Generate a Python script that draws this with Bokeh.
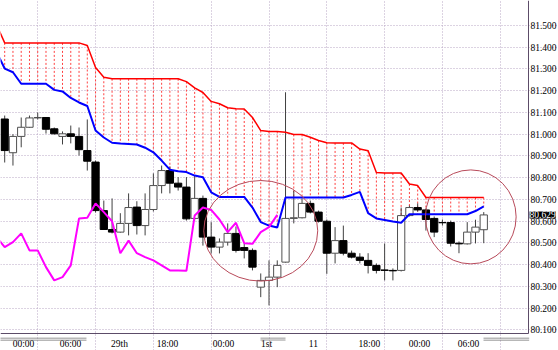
from bokeh.plotting import figure
from bokeh.models import Range1d, FixedTicker, PrintfTickFormatter, ColumnDataSource, Label, BoxAnnotation
from bokeh.embed import file_html
from bokeh.resources import INLINE

# ---------------- data ----------------
opens = [81.070, 80.915, 80.990, 81.032, 81.075, 81.077, 81.025, 80.990, 81.002, 80.990,
         80.925, 80.872, 80.649, 80.562, 80.550, 80.590, 80.665, 80.580, 80.654, 80.764,
         80.833, 80.775, 80.757, 80.613, 80.705, 80.527, 80.481, 80.504, 80.544, 80.479,
         80.466, 80.297, 80.328, 80.343, 80.412, 80.613, 80.616, 80.682, 80.642, 80.600,
         80.453, 80.511, 80.453, 80.435, 80.420, 80.397, 80.376, 80.374, 80.374, 80.626,
         80.663, 80.652, 80.613, 80.594, 80.594, 80.499, 80.496, 80.550, 80.561]
highs = [81.086, 81.000, 81.077, 81.086, 81.100, 81.077, 81.031, 81.013, 81.040, 81.031,
         81.068, 80.879, 80.695, 80.705, 80.637, 80.728, 80.692, 80.728, 80.820, 80.856,
         80.852, 80.803, 80.803, 80.810, 80.718, 80.596, 80.521, 80.590, 80.576, 80.498,
         80.475, 80.360, 80.420, 80.420, 81.193, 80.741, 80.705, 80.695, 80.649, 80.608,
         80.573, 80.580, 80.465, 80.453, 80.453, 80.406, 80.498, 80.383, 80.663, 80.672,
         80.682, 80.659, 80.622, 80.608, 80.603, 80.507, 80.596, 80.607, 80.642]
lows = [80.870, 80.856, 80.940, 81.030, 81.068, 81.003, 80.999, 80.953, 80.958, 80.902,
        80.833, 80.640, 80.560, 80.544, 80.548, 80.535, 80.539, 80.535, 80.645, 80.728,
        80.728, 80.741, 80.603, 80.603, 80.488, 80.452, 80.452, 80.488, 80.456, 80.429,
        80.374, 80.251, 80.213, 80.297, 80.410, 80.590, 80.613, 80.636, 80.594, 80.358,
        80.406, 80.443, 80.429, 80.406, 80.360, 80.360, 80.328, 80.328, 80.369, 80.622,
        80.644, 80.557, 80.527, 80.580, 80.484, 80.453, 80.493, 80.498, 80.499]
closes = [80.925, 80.990, 81.032, 81.075, 81.077, 81.023, 81.002, 81.002, 80.990, 80.929,
          80.876, 80.649, 80.562, 80.550, 80.590, 80.663, 80.580, 80.654, 80.764, 80.833,
          80.775, 80.757, 80.611, 80.705, 80.527, 80.481, 80.504, 80.544, 80.466, 80.466,
          80.389, 80.328, 80.343, 80.397, 80.613, 80.616, 80.682, 80.642, 80.600, 80.453,
          80.511, 80.453, 80.435, 80.420, 80.397, 80.374, 80.374, 80.372, 80.626, 80.663,
          80.652, 80.608, 80.550, 80.593, 80.499, 80.496, 80.550, 80.573, 80.629]

# cloud spans, bar -1 .. 58
span_red = [81.505, 81.420, 81.420, 81.420, 81.420, 81.420, 81.420, 81.420, 81.420, 81.420,
            81.420, 81.408, 81.307, 81.262, 81.255, 81.255, 81.255, 81.255, 81.255, 81.255,
            81.255, 81.255, 81.255, 81.242, 81.213, 81.192, 81.151, 81.140, 81.122, 81.117,
            81.116, 81.077, 81.017, 81.013, 81.013, 81.009, 80.999, 80.999, 80.986, 80.971,
            80.961, 80.960, 80.960, 80.960, 80.932, 80.924, 80.824, 80.822, 80.822, 80.822,
            80.771, 80.764, 80.709, 80.709, 80.709, 80.709, 80.709, 80.709, 80.709, 80.709]
span_blue = [81.380, 81.302, 81.285, 81.232, 81.232, 81.232, 81.232, 81.204, 81.197, 81.167,
             81.146, 81.130, 81.017, 80.985, 80.961, 80.957, 80.955, 80.953, 80.938, 80.917,
             80.879, 80.837, 80.830, 80.826, 80.810, 80.802, 80.733, 80.712, 80.712, 80.712,
             80.712, 80.663, 80.596, 80.580, 80.571, 80.709, 80.709, 80.709, 80.709, 80.709,
             80.709, 80.709, 80.709, 80.721, 80.735, 80.637, 80.613, 80.606, 80.599, 80.593,
             80.632, 80.632, 80.632, 80.632, 80.632, 80.632, 80.632, 80.632, 80.647, 80.668]
# lagging span, bar -1 .. 33
chikou = [80.527, 80.481, 80.504, 80.544, 80.466, 80.466, 80.389, 80.328, 80.343, 80.397,
          80.613, 80.616, 80.682, 80.642, 80.600, 80.453, 80.511, 80.453, 80.435, 80.420,
          80.397, 80.374, 80.374, 80.372, 80.626, 80.663, 80.652, 80.608, 80.550, 80.593,
          80.499, 80.496, 80.550, 80.573, 80.629]

time_tick_pos = [2.28, 7.97, 13.90, 19.71, 26.49, 31.70, 37.38, 44.16, 50.22, 56.15]
time_tick_labels = ["00:00", "06:00", "29th", "18:00", "00:00", "1st", "11", "18:00", "00:00", "06:00"]
vgrid_pos = [4, 11, 18, 25, 32, 39, 46, 53, 60]
price_ticks = [80.1, 80.2, 80.3, 80.4, 80.5, 80.6, 80.7, 80.8, 80.9, 81.0, 81.1, 81.2, 81.3, 81.4, 81.5]
last_price = 80.629

# chart window (bars / prices)
x_first, x_last = -0.508, 63.41
p_low, p_high = 80.0839, 81.6149

# marked zones (ellipses): centre bar, centre price, width in bars, height in price
ell_x = [31.0, 56.43]
ell_y = [80.556, 80.620]
ell_w = [13.8, 10.98]
ell_h = [0.4625, 0.432]

# separator marks under the time scale (bar ranges)
sep_left = [-0.6, 30.97, 57.97]
sep_right = [9.90, 34.0, 63.5]

# ---------------- figure ----------------
FONT = "Liberation Serif"
AXIS_COL = "#5c4c68"
p = figure(width=558, height=350, x_range=Range1d(x_first, 67.05), y_range=Range1d(80.0057, p_high),
           y_axis_location="right", toolbar_location=None, output_backend="svg",
           min_border_left=0, min_border_top=0, min_border_right=0, min_border_bottom=0)
p.background_fill_color = "white"
p.border_fill_color = "white"
p.outline_line_color = None

# axes, pinned to the edges of the chart window
p.yaxis.fixed_location = x_last
p.xaxis.fixed_location = p_low
p.yaxis.ticker = FixedTicker(ticks=price_ticks)
p.yaxis.formatter = PrintfTickFormatter(format="%.3f")
p.xaxis.ticker = FixedTicker(ticks=time_tick_pos)
p.xaxis.major_label_overrides = {t: l for t, l in zip(time_tick_pos, time_tick_labels)}
for ax in (p.xaxis[0], p.yaxis[0]):
    ax.major_tick_out = 0
    ax.major_tick_in = 0
    ax.minor_tick_out = 0
    ax.minor_tick_in = 0
    ax.axis_line_color = AXIS_COL
    ax.major_label_text_font = FONT
    ax.major_label_text_font_size = "9.5px"
    ax.major_label_text_color = "black"
p.xaxis.bounds = (x_first, x_last)
p.yaxis.bounds = (p_low, p_high)
p.yaxis.major_label_standoff = 2
p.xaxis.major_label_standoff = 6

# grid
p.xgrid.ticker = FixedTicker(ticks=vgrid_pos)
p.ygrid.ticker = FixedTicker(ticks=price_ticks)
p.xgrid.bounds = (p_low, p_high)
p.ygrid.bounds = (x_first, x_last)
for g in (p.xgrid[0], p.ygrid[0]):
    g.grid_line_color = "#b9a6c4"
    g.grid_line_dash = "1 2"
    g.grid_line_width = 1

# cloud hatch
span_x = list(range(-1, 59))
p.segment(x0=span_x, y0=span_red, x1=span_x, y1=span_blue, line_color="#ff4040",
          line_width=1, line_dash="2 2")

# candles
bars = list(range(len(opens)))
src = ColumnDataSource(dict(
    x=bars, o=opens, h=highs, l=lows, c=closes,
    top=[max(o, c) for o, c in zip(opens, closes)],
    bottom=[min(o, c) for o, c in zip(opens, closes)],
    fill=["white" if c >= o else "black" for o, c in zip(opens, closes)],
    edge=["#505050" if c >= o else "black" for o, c in zip(opens, closes)],
))
p.segment(x0="x", y0="h", x1="x", y1="l", source=src, line_color="#404040", line_width=1)
p.vbar(x="x", top="top", bottom="bottom", width=0.88, source=src,
       fill_color="fill", line_color="edge", line_width=1)

# lines
p.line(span_x, span_red, line_color="#ff0000", line_width=1.5)
p.line(span_x, span_blue, line_color="#0000ff", line_width=2)
p.line(list(range(-1, len(chikou) - 1)), chikou, line_color="#ff00ff", line_width=2)

# ellipses
p.ellipse(x=ell_x, y=ell_y, width=ell_w, height=ell_h, fill_color=None,
          line_color="#b84a5a", line_width=1)

# separators under the time scale
for a, b in zip(sep_left, sep_right):
    p.add_layout(BoxAnnotation(left=a, right=b, top=80.0644, bottom=80.0610,
                               fill_color="#707070", fill_alpha=1, line_alpha=0))
    p.add_layout(BoxAnnotation(left=a, right=b, top=80.0556, bottom=80.0522,
                               fill_color="#707070", fill_alpha=1, line_alpha=0))

# last price marker
p.add_layout(Label(x=63.55, y=last_price, text="%.3f" % last_price, text_font=FONT,
                   text_font_size="9.5px", text_color="white", text_baseline="middle",
                   background_fill_color="black", background_fill_alpha=1))

open("out.html", "w").write(file_html(p, INLINE))
